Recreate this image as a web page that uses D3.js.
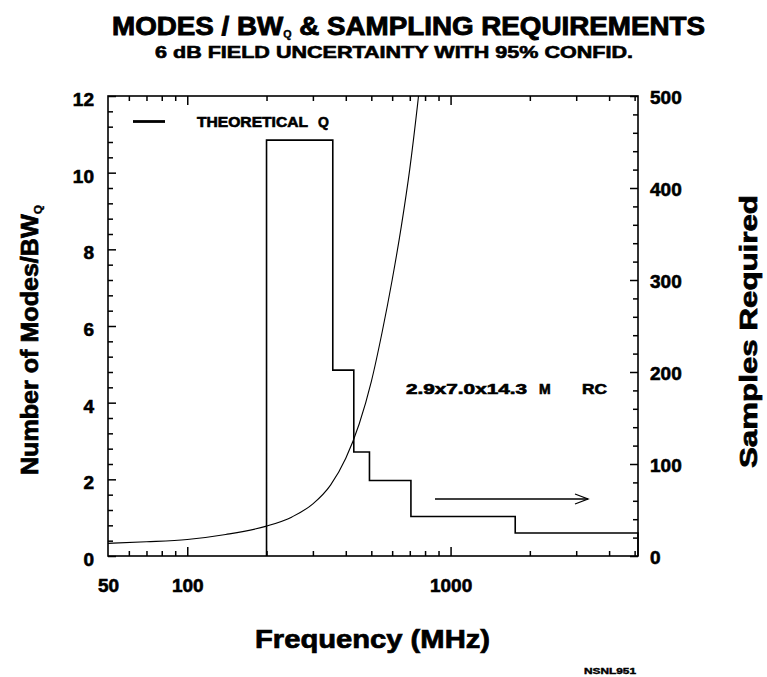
<!DOCTYPE html>
<html>
<head>
<meta charset="utf-8">
<script src="https://cdn.jsdelivr.net/npm/d3@7"></script>
<style>
  html, body { margin: 0; padding: 0; background: #fff; }
  svg { display: block; }
  text { font-family: "Liberation Sans", Arial, Helvetica, sans-serif; font-weight: bold; fill: #000; stroke: #000; stroke-width: 0.6px; }
</style>
</head>
<body>
<svg id="chart" width="767" height="677"></svg>
<script>
// ---------------- data ----------------
// Step function: samples required (right axis) per frequency band (MHz)
const stepEdges   = [200, 357, 429, 492, 707, 1760, 5150];
const stepSamples = [452, 202, 113, 82, 43, 25];

// Theoretical Q curve: number of modes / BW_Q (left axis)
const curveFreq  = [50, 70, 100, 140, 200, 250, 300, 350, 400, 450, 500, 550, 600, 650, 700, 750, 800];
const curveModes = [0.33, 0.37, 0.43, 0.56, 0.78, 1.02, 1.36, 1.85, 2.55, 3.45, 4.55, 5.85, 7.2, 8.6, 10.1, 11.8, 13.6];

// tick labels
const xTickLabels   = [50, 100, 1000];
const xMajorTicks   = [100, 1000];
const xMinorTicks   = [60, 70, 80, 90, 200, 300, 400, 500, 600, 700, 800, 900, 2000, 3000, 4000, 5000];
const yLeftLabels   = [0, 2, 4, 6, 8, 10, 12];
const yRightLabels  = [0, 100, 200, 300, 400, 500];

// ---------------- layout ----------------
const svg = d3.select("#chart");
const L = 108, R = 638, T = 96, B = 556;

const x  = d3.scaleLog().domain([50, 5150]).range([L, R]);
const yL = d3.scaleLinear().domain([0, 12]).range([B, T]);
const yR = d3.scaleLinear().domain([0, 500]).range([B, T]);

const yLeftMinor  = d3.range(0, 12.01, 0.4).map(v => +v.toFixed(1)).filter(v => !yLeftLabels.includes(v));
const yRightMinor = d3.range(0, 501, 20).filter(v => !yRightLabels.includes(v));

function styleAxis(g) {
  g.select(".domain").remove();
  g.selectAll(".tick line").attr("stroke", "#000").attr("stroke-width", 1.5);
}
function styleLabels(g, dy) {
  g.select(".domain").remove();
  g.selectAll("text").attr("font-size", 19).attr("dy", dy)
    .style("font-family", "Liberation Sans").style("font-weight", "bold")
    .style("stroke", "#000").style("stroke-width", "0.6px");
}

// bottom ticks
svg.append("g").attr("transform", `translate(0,${B})`)
  .call(d3.axisBottom(x).tickValues(xMinorTicks).tickSize(-5).tickFormat(""))
  .call(styleAxis);
svg.append("g").attr("transform", `translate(0,${B})`)
  .call(d3.axisBottom(x).tickValues(xMajorTicks).tickSize(-9).tickFormat(""))
  .call(styleAxis);
// top ticks
svg.append("g").attr("transform", `translate(0,${T})`)
  .call(d3.axisTop(x).tickValues(xMinorTicks).tickSize(-5).tickFormat(""))
  .call(styleAxis);
svg.append("g").attr("transform", `translate(0,${T})`)
  .call(d3.axisTop(x).tickValues(xMajorTicks).tickSize(-9).tickFormat(""))
  .call(styleAxis);
// bottom labels
svg.append("g").attr("transform", `translate(0,${B})`)
  .call(d3.axisBottom(x).tickValues(xTickLabels).tickSize(0).tickPadding(23).tickFormat(d3.format("d")))
  .call(g => styleLabels(g, "0.71em"));

// left ticks
svg.append("g").attr("transform", `translate(${L},0)`)
  .call(d3.axisLeft(yL).tickValues(yLeftMinor).tickSize(-5).tickFormat(""))
  .call(styleAxis);
svg.append("g").attr("transform", `translate(${L},0)`)
  .call(d3.axisLeft(yL).tickValues(yLeftLabels).tickSize(-8).tickFormat(""))
  .call(styleAxis);
svg.append("g").attr("transform", `translate(${L},0)`)
  .call(d3.axisLeft(yL).tickValues(yLeftLabels).tickSize(0).tickPadding(14).tickFormat(d3.format("d")))
  .call(g => styleLabels(g, "0.5em"));

// right ticks
svg.append("g").attr("transform", `translate(${R},0)`)
  .call(d3.axisRight(yR).tickValues(yRightMinor).tickSize(-5).tickFormat(""))
  .call(styleAxis);
svg.append("g").attr("transform", `translate(${R},0)`)
  .call(d3.axisRight(yR).tickValues(yRightLabels).tickSize(-8).tickFormat(""))
  .call(styleAxis);
svg.append("g").attr("transform", `translate(${R},0)`)
  .call(d3.axisRight(yR).tickValues(yRightLabels).tickSize(0).tickPadding(12).tickFormat(d3.format("d")))
  .call(g => styleLabels(g, "0.38em"));

// frame
svg.append("rect").attr("x", L).attr("y", T).attr("width", R - L).attr("height", B - T)
  .attr("fill", "none").attr("stroke", "#000").attr("stroke-width", 1.6);

// clip
svg.append("clipPath").attr("id", "plotclip")
  .append("rect").attr("x", L).attr("y", T).attr("width", R - L).attr("height", B - T);

// theoretical Q curve
const curvePts = curveFreq.map((f, i) => [f, curveModes[i]]);
svg.append("path")
  .attr("clip-path", "url(#plotclip)")
  .attr("d", d3.line().x(d => x(d[0])).y(d => yL(d[1])).curve(d3.curveMonotoneX)(curvePts))
  .attr("fill", "none").attr("stroke", "#000").attr("stroke-width", 1.1);

// step function (samples required)
const stepPts = [[stepEdges[0], 0]];
stepSamples.forEach((s, i) => { stepPts.push([stepEdges[i], s]); stepPts.push([stepEdges[i + 1], s]); });
stepPts.push([stepEdges[stepEdges.length - 1], 0]);
svg.append("path")
  .attr("d", d3.line().x(d => x(d[0])).y(d => yR(d[1]))(stepPts))
  .attr("fill", "none").attr("stroke", "#000").attr("stroke-width", 1.6);

// legend
svg.append("line").attr("x1", 133).attr("x2", 165).attr("y1", 121.5).attr("y2", 121.5)
  .attr("stroke", "#000").attr("stroke-width", 2.8);
svg.append("text").attr("x", 197).attr("y", 127).attr("font-size", 14)
  .attr("textLength", 111).attr("lengthAdjust", "spacingAndGlyphs").text("THEORETICAL");
svg.append("text").attr("x", 318).attr("y", 127).attr("font-size", 14).text("Q");

// annotation
svg.append("text").attr("x", 406).attr("y", 394).attr("font-size", 14)
  .attr("textLength", 121).attr("lengthAdjust", "spacingAndGlyphs").text("2.9x7.0x14.3");
svg.append("text").attr("x", 539).attr("y", 394).attr("font-size", 14).text("M");
svg.append("text").attr("x", 582).attr("y", 394).attr("font-size", 14)
  .attr("textLength", 25).attr("lengthAdjust", "spacingAndGlyphs").text("RC");

// arrow
const ay = 499;
svg.append("line").attr("x1", 435).attr("x2", 588).attr("y1", ay).attr("y2", ay).attr("stroke", "#000").attr("stroke-width", 1.3);
svg.append("path").attr("d", `M575,${ay - 5} L588,${ay} L575,${ay + 5}`).attr("fill", "none").attr("stroke", "#000").attr("stroke-width", 1.3);

// titles
const t1 = svg.append("text").attr("x", 112).attr("y", 35).attr("font-size", 26)
  .style("stroke-width", "0.9px")
  .attr("textLength", 593).attr("lengthAdjust", "spacingAndGlyphs");
t1.append("tspan").text("MODES / BW");
t1.append("tspan").attr("font-size", 10).attr("dy", 3).style("stroke-width", "0.4px").text("Q");
t1.append("tspan").attr("dy", -3).text(" & SAMPLING REQUIREMENTS");

svg.append("text").attr("x", 155).attr("y", 58).attr("font-size", 16.5)
  .attr("textLength", 478).attr("lengthAdjust", "spacingAndGlyphs")
  .text("6 dB FIELD UNCERTAINTY WITH 95% CONFID.");

// y-left title
const yt = svg.append("text").attr("transform", "translate(38,475) rotate(-90)").attr("font-size", 23)
  .style("stroke-width", "0.7px")
  .attr("textLength", 270).attr("lengthAdjust", "spacingAndGlyphs");
yt.append("tspan").text("Number of Modes/BW");
yt.append("tspan").attr("font-size", 11).attr("dy", 4).style("stroke-width", "0.4px").text("Q");

// y-right title
svg.append("text").attr("transform", "translate(757,468) rotate(-90)").attr("font-size", 23)
  .style("stroke-width", "0.7px")
  .attr("textLength", 273).attr("lengthAdjust", "spacingAndGlyphs").text("Samples Required");

// x title
svg.append("text").attr("x", 255).attr("y", 648).attr("font-size", 25)
  .style("stroke-width", "0.7px")
  .attr("textLength", 235).attr("lengthAdjust", "spacingAndGlyphs").text("Frequency (MHz)");

// footer
svg.append("text").attr("x", 584).attr("y", 674).attr("font-size", 8.5)
  .style("stroke-width", "0.4px")
  .attr("textLength", 52).attr("lengthAdjust", "spacingAndGlyphs").text("NSNL951");
</script>
</body>
</html>
